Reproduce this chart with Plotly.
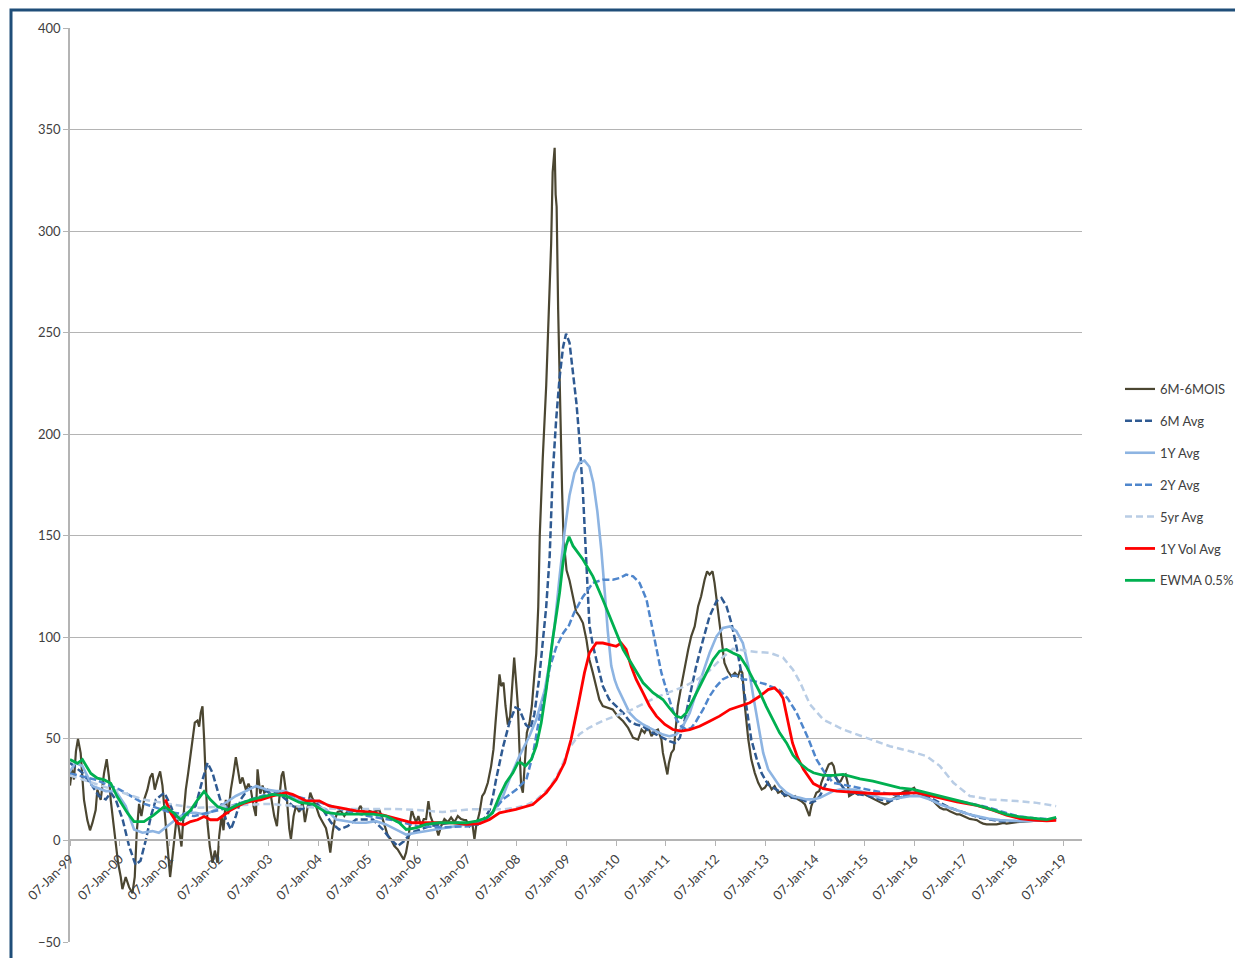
import pandas as pd
import plotly.graph_objects as go

START = pd.Timestamp("1999-01-07")

# ---- data: t = years after 07-Jan-1999, v = value ----
ois_t = [0.00, 0.04, 0.08, 0.12, 0.161, 0.215, 0.249, 0.282, 0.349, 0.403, 0.450, 0.517, 0.551, 0.618, 0.685, 0.739, 0.786, 0.820, 0.874, 0.921, 0.968, 1.022, 1.055, 1.122, 1.190, 1.257, 1.304, 1.344, 1.391, 1.438, 1.492, 1.559, 1.613, 1.660, 1.707, 1.761, 1.815, 1.862, 1.895, 1.935, 1.976, 2.016, 2.063, 2.110, 2.151, 2.198, 2.245, 2.285, 2.332, 2.379, 2.419, 2.466, 2.513, 2.567, 2.601, 2.634, 2.668, 2.702, 2.735, 2.769, 2.816, 2.870, 2.917, 2.970, 3.004, 3.051, 3.091, 3.138, 3.185, 3.239, 3.293, 3.340, 3.374, 3.427, 3.474, 3.542, 3.595, 3.642, 3.696, 3.743, 3.777, 3.831, 3.878,
         3.911, 3.978, 4.046, 4.113, 4.167, 4.214, 4.261, 4.294, 4.328, 4.368, 4.415, 4.449, 4.503, 4.550, 4.617, 4.684, 4.731, 4.785, 4.839, 4.886, 4.953, 5.020, 5.087, 5.155, 5.202, 5.242, 5.289, 5.336, 5.390, 5.457, 5.524, 5.591, 5.659, 5.726, 5.793, 5.847, 5.894, 5.961, 6.028, 6.095, 6.163, 6.230, 6.297, 6.344, 6.398, 6.465, 6.532, 6.599, 6.667, 6.720, 6.767, 6.815, 6.855, 6.882, 6.922, 6.969, 7.016, 7.070, 7.124, 7.171, 7.218, 7.258, 7.305, 7.372, 7.419, 7.473, 7.540, 7.608, 7.675, 7.742, 7.809, 7.876,
         7.943, 7.977, 8.044, 8.100, 8.145, 8.179, 8.246, 8.300, 8.347, 8.414, 8.481, 8.528, 8.569, 8.616, 8.649, 8.683, 8.730, 8.770, 8.817, 8.864, 8.905, 8.945, 8.985, 9.019, 9.052, 9.086, 9.120, 9.160, 9.200, 9.254, 9.301, 9.355, 9.390, 9.43,
         9.46, 9.52, 9.59, 9.64, 9.69, 9.72, 9.76, 9.78, 9.80, 9.83, 9.87, 9.91, 9.94, 10.00, 10.06, 10.13, 10.19, 10.26, 10.33, 10.40, 10.46, 10.53, 10.60, 10.66, 10.73, 10.83, 10.93, 11.03, 11.14, 11.24, 11.34, 11.44, 11.51, 11.57, 11.64, 11.71, 11.78, 11.84, 11.91, 11.94, 12.00, 12.03, 12.06, 12.11, 12.16, 12.20, 12.24, 12.31, 12.38, 12.45, 12.51, 12.58, 12.65, 12.71, 12.78, 12.83, 12.88, 12.94, 12.98, 13.05, 13.12, 13.18, 13.25, 13.32, 13.39, 13.45, 13.50, 13.54, 13.59, 13.66, 13.72, 13.79, 13.86, 13.93, 13.99,
         14.06, 14.13, 14.19, 14.26, 14.33, 14.39, 14.46, 14.53, 14.60, 14.66, 14.73, 14.80, 14.85, 14.89, 14.93, 14.98, 15.03, 15.09, 15.13, 15.18, 15.23, 15.28, 15.34, 15.38, 15.42, 15.47, 15.52, 15.57, 15.62, 15.66, 15.69, 15.74, 15.80, 15.87, 15.94, 16.01, 16.07, 16.14, 16.21, 16.28, 16.34, 16.41, 16.48, 16.55, 16.61, 16.68, 16.75, 16.81, 16.88, 16.95, 17.00, 17.05, 17.12, 17.18, 17.25, 17.32, 17.39, 17.45, 17.52, 17.59, 17.65, 17.72, 17.79, 17.86, 17.92, 17.99, 18.06, 18.12, 18.19, 18.26, 18.33, 18.39, 18.46, 18.53, 18.60, 18.66, 18.73, 18.80, 18.86, 18.93, 19.00, 19.07, 19.13, 19.20, 19.27, 19.33, 19.40, 19.47, 19.54, 19.60, 19.67, 19.74, 19.80, 19.86]
ois_v = [27, 35, 30, 44, 50, 43, 31, 20, 10, 5, 8.5, 15, 25, 20, 33, 40, 31, 20, 8.5, -3, -11, -18, -24, -18, -23, -26, -18, 4, 18, 12, 20, 25, 31, 33, 25, 30, 34, 27, 17, 4, -6, -18, -8, 4, 12, 5, -3, 12, 25, 33, 41, 51, 58, 59, 56, 63, 66, 49.5, 25, 8.5, -3, -11, -5, -11, 2, 12, 5, 20, 13, 25, 33, 41, 36, 28, 31, 25, 28, 25, 17, 12, 35, 23, 27,
         23.5, 25, 22, 12, 7, 20.5, 32, 34, 28.5, 20.5, 6, 0.5, 12, 17, 14, 19, 9, 17, 23.5, 20.5, 17, 12, 9, 6, 0.5, -6, 4, 10.5, 14, 14.5, 12, 14.5, 14, 15, 14.5, 17, 15, 13, 14.5, 14, 14.5, 15, 10.5, 6.5, 2.5, 0.5, -2.8, -4.4, -7, -9.4, -6, 0.5, 10.5, 15, 12, 9, 12, 7, 10.5, 10.5, 19.4, 12, 9, 6.5, 2.5, 7, 10.5, 9, 11.3, 9, 12, 10.5,
         10, 10, 7, 9, 0.5, 7, 13.6, 21.8, 23.5, 28.4, 36.6, 44.8, 57.9, 72.7, 81.8, 76, 77.7, 66.2, 57, 61.2, 77.7, 90, 77.7, 66.2, 44.8, 26.7, 23.5, 41.5, 53, 57.9, 66.2, 82.5, 92, 115,
         150, 188, 224, 259, 294, 329, 341, 318, 312, 262, 207, 172, 148, 133, 128, 120, 112.8, 110.4, 107, 98.9, 89, 82.5, 76, 69.4, 66.2, 65.3, 64.5, 61.2, 58.7, 55.4, 50.5, 49.7, 54.6, 53, 56.2, 51.3, 53.8, 54.6, 49.7, 43.1, 35, 32.5, 38, 43.1, 44.8, 54.6, 66.2, 76, 85.8, 94, 100.5, 105.4, 115.3, 120.2, 128.4, 132.5, 130.9, 132.5, 126.8, 112, 98.9, 87.4, 83.3, 80.8, 82.5, 80.8, 84.1, 82.5, 66.2, 49.7, 39.9, 33.3, 28.4, 25.1, 25.9,
         28.4, 25.1, 26.7, 23.5, 24.3, 21.8, 22.6, 21, 21.8, 20.2, 19.3, 17.7, 14.4, 12, 16.9, 20.2, 23.5, 24.3, 28.4, 31.6, 34.9, 37.4, 38.2, 36.6, 31.6, 28.4, 29.2, 31.6, 32.5, 28.4, 21.8, 22.6, 23.5, 22.6, 23.5, 22.6, 21.8, 21, 20.2, 19.3, 18.5, 17.7, 18.5, 20.2, 21, 22.6, 23.5, 24.3, 24.3, 25.1, 25.9, 23.5, 22.6, 21.8, 21, 20.2, 19.3, 17.7, 16.1, 15.3, 15.3, 14.4, 13.6, 12.8, 12.8, 12, 11.6, 10.6, 10.3, 10, 9, 8.3, 7.9, 7.9, 7.9, 7.9, 8.3, 8.6, 8.3, 8.6, 9, 9, 9.1, 9.2, 9.4, 9.4, 9.6, 9.8, 10, 10, 10.1, 10.3, 10.3, 11.1]

avg6m_t = [0.00, 0.25, 0.45, 0.58, 0.72, 0.82, 0.92, 1.06, 1.19, 1.32, 1.42, 1.53, 1.63, 1.73, 1.90, 2.03, 2.13, 2.26, 2.40, 2.53, 2.67, 2.77, 2.87, 3.00, 3.14, 3.24, 3.34, 3.44, 3.58, 3.71, 3.84, 4.01, 4.18, 4.35, 4.48, 4.65, 4.82, 4.95, 5.09, 5.26, 5.42, 5.59, 5.76, 5.93, 6.10, 6.30, 6.46, 6.60, 6.73, 6.87, 7.04, 7.24, 7.44, 7.64, 7.84, 8.04, 8.24, 8.38, 8.45, 8.52, 8.58, 8.72, 8.85, 8.97, 9.05, 9.18, 9.27, 9.35, 9.45, 9.52, 9.59, 9.66, 9.72, 9.79, 9.86, 9.93, 9.99, 10.06, 10.13, 10.20, 10.26, 10.33, 10.40, 10.46, 10.53, 10.63, 10.73, 10.86, 11.00, 11.14, 11.27, 11.40, 11.54, 11.67, 11.81, 11.94, 12.07, 12.18, 12.28, 12.38, 12.48, 12.61, 12.75, 12.88, 13.02, 13.12, 13.22, 13.32, 13.42, 13.52, 13.62, 13.72, 13.83, 13.93, 14.06, 14.23, 14.39, 14.56, 14.73, 14.90, 15.00, 15.10, 15.20, 15.30, 15.40, 15.50, 15.60, 15.70, 15.91, 16.11, 16.31, 16.51, 16.71, 16.91, 17.12, 17.32, 17.52, 17.72, 17.92, 18.12, 18.33, 18.53, 18.73, 18.93, 19.13, 19.33, 19.54, 19.74, 19.86]
avg6m_v = [38.2, 33.3, 26.8, 21.9, 20.2, 23.5, 20.2, 10.3, -2.8, -12, -10, 0.5, 12, 20.2, 23.5, 17, 10.3, 10.3, 13.6, 17, 30, 38.2, 33.3, 21.9, 10.3, 5.4, 12, 20.2, 25.1, 26.8, 25.9, 23.5, 23.5, 20.2, 17, 15.3, 17, 18.7, 15.3, 8.7, 5.4, 7, 10.3, 10.3, 10.3, 5.4, 0.5, -2.8, -0.3, 3.8, 5.4, 7, 7.9, 8.7, 8.7, 7.9, 7.9, 12, 15, 22, 30, 46, 58, 65.5, 64.5, 57, 55, 62, 80, 97, 115, 140, 180, 207, 228, 243, 249.5, 245, 231, 215, 197, 171, 136, 106, 96, 86, 76, 69.4, 66.2, 62.8, 58.7, 57.1, 56.2, 53.8, 52.1, 50.5, 48.9, 48, 50.5, 59.5, 71, 85.8, 98.9, 110.4, 117.8, 119.4, 115.3, 107, 95.6, 82.5, 66.2, 49.7, 40, 33, 27.5, 25.1, 22.6, 21, 20.2, 18.5, 19.3, 21.8, 26.7, 31.6, 31.6, 28.4, 25.1, 23.5, 22.6, 21.8, 20.2, 19.3, 21, 23.5, 23.5, 21, 18.5, 16.1, 14.4, 12.8, 11.1, 10.3, 9.5, 9.5, 9.5, 9.8, 10, 10.3, 10.7]

avg1y_t = [0.00, 0.11, 0.25, 0.45, 0.72, 0.92, 1.12, 1.29, 1.46, 1.66, 1.79, 1.96, 2.13, 2.33, 2.53, 2.73, 2.94, 3.14, 3.34, 3.54, 3.75, 3.95, 4.15, 4.35, 4.55, 4.75, 4.95, 5.16, 5.36, 5.56, 5.76, 5.96, 6.16, 6.36, 6.57, 6.77, 6.97, 7.17, 7.37, 7.57, 7.77, 7.98, 8.18, 8.38, 8.55, 8.72, 8.88, 9.05, 9.25, 9.39, 9.47, 9.56, 9.66, 9.76, 9.86, 9.96, 10.06, 10.16, 10.26, 10.36, 10.46, 10.54, 10.62, 10.70, 10.77, 10.83, 10.90, 10.97, 11.03, 11.14, 11.27, 11.40, 11.54, 11.67, 11.81, 11.94, 12.07, 12.21, 12.34, 12.48, 12.61, 12.75, 12.88, 13.02, 13.15, 13.29, 13.42, 13.55, 13.66, 13.76, 13.86, 13.96, 14.06, 14.16, 14.29, 14.43, 14.56, 14.70, 14.83, 14.97, 15.10, 15.23, 15.37, 15.50, 15.64, 15.77, 15.91, 16.11, 16.31, 16.51, 16.71, 16.91, 17.12, 17.32, 17.52, 17.72, 17.92, 18.12, 18.33, 18.53, 18.73, 18.93, 19.13, 19.33, 19.54, 19.74, 19.86]
avg1y_v = [34, 38.2, 36.6, 26.8, 24.3, 24.3, 17, 5.4, 3.8, 4.6, 3.8, 7, 10.3, 13.6, 13.6, 12.8, 15.3, 18.7, 21.9, 24.3, 26.8, 25.1, 24.3, 24.3, 20.2, 18.7, 17, 15.3, 10.3, 9.5, 8.7, 8.7, 9.5, 7.9, 5.4, 2.9, 3.8, 4.6, 5.4, 6.2, 7, 7.9, 8.7, 10.3, 15, 21.8, 32, 41.5, 51.3, 59.5, 66, 74, 88, 106, 130, 152, 170, 181, 186, 187, 184, 176, 162, 143, 122, 103, 86, 79, 75, 69.4, 62.8, 59.5, 57.1, 55.4, 53.8, 52.1, 51.3, 52.1, 56.2, 62.8, 72.7, 82.5, 92.3, 100.5, 104.6, 105.4, 103, 97.2, 85.8, 71, 56.2, 43.1, 35, 31.6, 26.7, 23.5, 21.8, 21, 20.2, 20.2, 21, 22.6, 24.3, 25.1, 25.1, 25.1, 24.3, 22.6, 21, 20.2, 21, 21.8, 21.8, 20.2, 17.7, 16.1, 14.4, 12.8, 11.6, 10.6, 10, 9.7, 9.5, 9.6, 9.8, 10.2, 10.3]

avg2y_t = [0.0, 0.5, 1.0, 1.5, 2.0, 2.5, 3.0, 3.5, 4.0, 4.5, 5.0, 5.5, 6.0, 6.5, 7.0, 7.5, 8.04, 8.38, 8.72, 8.99, 9.19, 9.32, 9.45, 9.59, 9.66, 9.79, 9.93, 10.05, 10.15, 10.33, 10.53, 10.73, 10.93, 11.07, 11.20, 11.34, 11.47, 11.61, 11.71, 11.81, 11.91, 12.01, 12.11, 12.21, 12.31, 12.41, 12.51, 12.61, 12.75, 12.88, 13.02, 13.15, 13.29, 13.42, 13.55, 13.69, 13.82, 14.00, 14.29, 14.45, 14.63, 14.87, 15.03, 15.20, 15.37, 15.71, 16.04, 16.38, 16.71, 17.05, 17.39, 17.72, 18.05, 18.39, 18.73, 19.07, 19.40, 19.74, 19.86]
avg2y_v = [33, 30, 25, 18, 14, 12, 15, 19, 23, 22, 19, 15, 12, 10, 7, 6.5, 7, 10.3, 20.2, 25.1, 30, 42, 60, 75, 85, 95, 102, 106, 112, 120, 126.8, 128.4, 128.4, 129.2, 130.9, 130, 126.8, 118.6, 107, 94, 82.5, 74.3, 66.2, 59.5, 56.2, 54.6, 55.4, 58.7, 64.5, 71, 76, 79.4, 81.1, 81.1, 79.4, 79, 78, 77, 74, 70, 63, 50, 40, 33.3, 28.4, 26.8, 25, 23.5, 21.9, 23.5, 21.9, 20.2, 18.5, 16.9, 14.5, 12, 11, 10.3, 10.3]

avg5y_t = [0.0, 0.5, 1.0, 1.5, 2.0, 2.5, 3.0, 3.5, 4.0, 4.5, 5.0, 5.5, 6.0, 6.5, 7.0, 7.5, 8.04, 8.72, 8.98, 9.20, 9.39, 9.66, 9.86, 10.06, 10.26, 10.46, 10.73, 11.00, 11.27, 11.54, 11.81, 12.07, 12.34, 12.61, 12.88, 13.15, 13.35, 13.55, 13.82, 14.09, 14.36, 14.56, 14.70, 14.90, 15.17, 15.57, 16.04, 16.51, 16.92, 17.25, 17.52, 17.79, 18.12, 18.53, 19.07, 19.47, 19.86]
avg5y_v = [32, 28, 24, 20, 18, 16, 16.5, 17.5, 18, 17, 16, 15.5, 15.5, 15.5, 15, 14, 15.3, 15.3, 16.1, 17.5, 20, 26, 34.2, 45.7, 52.3, 55.6, 58.9, 61.4, 63.9, 67.2, 70.5, 73, 75.5, 78.8, 83.7, 90.3, 94.4, 93.6, 92.8, 92.4, 90, 84, 78, 67, 59.5, 54.6, 50.5, 46.4, 43.9, 41.5, 36.6, 28.4, 21.9, 20.2, 19.4, 18.5, 16.9]

vol1y_t = [1.92, 2.03, 2.16, 2.30, 2.43, 2.57, 2.70, 2.83, 2.97, 3.10, 3.24, 3.37, 3.51, 3.64, 3.84, 4.08, 4.35, 4.48, 4.75, 5.02, 5.22, 5.42, 5.76, 6.10, 6.37, 6.63, 6.90, 7.17, 7.44, 7.71, 7.98, 8.25, 8.45, 8.65, 8.98, 9.32, 9.59, 9.79, 9.96, 10.09, 10.23, 10.36, 10.46, 10.60, 10.73, 10.86, 11.00, 11.10, 11.20, 11.30, 11.40, 11.54, 11.67, 11.81, 11.98, 12.14, 12.31, 12.48, 12.68, 12.88, 13.08, 13.29, 13.49, 13.69, 13.89, 14.06, 14.19, 14.29, 14.36, 14.45, 14.55, 14.65, 14.77, 14.97, 15.17, 15.44, 15.84, 16.24, 16.65, 17.05, 17.45, 17.86, 18.26, 18.60, 18.86, 19.13, 19.40, 19.67, 19.86]
vol1y_v = [20.2, 13.4, 8.5, 7.7, 9.3, 10.2, 11.8, 10.2, 10.2, 12.6, 15, 16.7, 18.4, 19.2, 20, 21.9, 23.5, 22.7, 19.5, 19.5, 17, 16.2, 14.6, 13.8, 12, 10.3, 8.7, 8.7, 8.7, 8.7, 7.9, 8.3, 10.3, 13.6, 15.3, 17.7, 23.5, 30, 38.2, 49.7, 66.2, 82.5, 92.3, 97.2, 97.2, 96.4, 95.6, 97.2, 94, 85.8, 79.4, 72.7, 66.2, 61.2, 57.1, 54.6, 53.8, 54.6, 56.2, 58.7, 61.2, 64.5, 66.2, 67.8, 71, 74.3, 75.1, 72.7, 70, 60, 48, 41, 35, 28, 25.5, 24.3, 23.5, 23, 23, 23.5, 21.3, 19, 17.3, 14.8, 12.5, 10.8, 10, 9.7, 9.9]

ewma_t = [0.00, 0.15, 0.25, 0.42, 0.55, 0.69, 0.82, 0.95, 1.16, 1.29, 1.49, 1.69, 1.90, 2.10, 2.23, 2.43, 2.57, 2.70, 2.83, 2.97, 3.17, 3.37, 3.64, 3.91, 4.08, 4.35, 4.62, 4.89, 5.16, 5.42, 5.76, 6.10, 6.37, 6.63, 6.77, 6.97, 7.17, 7.44, 7.71, 7.98, 8.18, 8.38, 8.51, 8.65, 8.78, 8.92, 9.02, 9.09, 9.17, 9.29, 9.39, 9.49, 9.59, 9.67, 9.72, 9.80, 9.86, 9.93, 9.99, 10.05, 10.13, 10.33, 10.53, 10.73, 10.93, 11.14, 11.34, 11.54, 11.74, 11.94, 12.07, 12.21, 12.31, 12.41, 12.55, 12.68, 12.82, 12.95, 13.08, 13.22, 13.35, 13.49, 13.62, 13.76, 13.89, 14.02, 14.16, 14.29, 14.43, 14.56, 14.70, 14.85, 14.97, 15.17, 15.37, 15.57, 15.70, 15.91, 16.17, 16.44, 16.71, 16.98, 17.25, 17.52, 17.79, 18.06, 18.33, 18.60, 18.86, 19.13, 19.40, 19.67, 19.86]
ewma_v = [39.8, 38, 39.8, 33, 30.7, 29.8, 28.2, 21.6, 13.4, 9.3, 9.3, 12.6, 16.7, 13.4, 10.2, 15, 20, 24.1, 20, 16.7, 15, 17.5, 20, 21.6, 22.7, 21.9, 18.7, 17.9, 13.8, 13, 13, 13, 12, 8.7, 5.4, 6.2, 7.9, 8.7, 8.7, 8.7, 9.5, 11, 13.6, 21.8, 28.4, 33.3, 38.2, 38.2, 36.6, 39.9, 46.4, 57.9, 74.3, 90.7, 99, 112, 122, 137, 145, 149.5, 145, 138.3, 130, 118.6, 107, 94, 85.8, 77.6, 72.7, 69.4, 65.3, 61.2, 60.4, 62.8, 69.4, 76, 82.5, 89, 93.2, 94, 92.3, 90.7, 85.8, 79.4, 73, 66, 59, 53, 48, 42, 38, 35, 33.3, 32, 32, 32.5, 31.7, 30.3, 29.2, 27.6, 25.9, 25.1, 23.5, 21.8, 20.2, 18.5, 16.9, 14.9, 12.8, 11.6, 10.8, 10.3, 11.3]

series_names = ["6M-6MOIS", "6M Avg", "1Y Avg", "2Y Avg", "5yr Avg", "1Y Vol Avg", "EWMA 0.5%"]
y_ticks = [-50, 0, 50, 100, 150, 200, 250, 300, 350, 400]


def to_dates(ts):
    return [START + pd.Timedelta(days=t * 365.25) for t in ts]


styles = [
    (ois_t, ois_v, dict(color="#4B4631", width=2.2)),
    (avg6m_t, avg6m_v, dict(color="#2F5A92", width=2.5, dash="7px,3px")),
    (avg1y_t, avg1y_v, dict(color="#8DB4E2", width=2.6)),
    (avg2y_t, avg2y_v, dict(color="#4F86CC", width=2.5, dash="7px,3px")),
    (avg5y_t, avg5y_v, dict(color="#B9CDE5", width=2.5, dash="7px,4px")),
    (vol1y_t, vol1y_v, dict(color="#FF0000", width=2.8)),
    (ewma_t, ewma_v, dict(color="#00B050", width=2.8)),
]

fig = go.Figure()
for name, (ts, vs, line) in zip(series_names, styles):
    fig.add_trace(go.Scatter(x=to_dates(ts), y=vs, mode="lines", name=name,
                             line=line, legendgroup=name))

# the page places the figure 8px in from the window corner
OFF = 8
W, H = 1243 - OFF, 958 - OFF
# target plot area in window pixels: x 70..1082, y 28..942
ml, mt = 70 - OFF, 28 - OFF
mr = W - (1082 - OFF)
mb = H - (942 - OFF)
pw, ph = W - ml - mr, H - mt - mb


def px_x(p):
    return (p - OFF - ml) / pw


def px_y(q):
    return (H - mb - (q - OFF)) / ph


font_main = "Lato, Calibri, Carlito, sans-serif"
grid_col = "#B4B4B4"

fig.update_layout(
    width=W, height=H,
    margin=dict(l=ml, r=mr, t=mt, b=mb, autoexpand=False),
    plot_bgcolor="white", paper_bgcolor="white",
    font=dict(family=font_main, size=13, color="#404040"),
    showlegend=True,
    legend=dict(x=px_x(1120), y=px_y(374), xanchor="left", yanchor="top",
                font=dict(family=font_main, size=13, color="#404040"),
                tracegroupgap=12, bgcolor="rgba(0,0,0,0)"),
    xaxis=dict(
        type="date", automargin=False,
        range=[START, START + pd.Timedelta(days=20.38 * 365.25)],
        tick0="1999-01-07", dtick="M12", tickformat="%d-%b-%y",
        tickangle=-45, ticks="outside", ticklen=5, tickcolor=grid_col,
        showgrid=False, showline=True, linecolor=grid_col, linewidth=1.5,
        anchor="free", position=50 / 450, zeroline=False,
        tickfont=dict(family=font_main, size=13, color="#404040"),
    ),
    yaxis=dict(
        automargin=False,
        range=[-50, 400], tickvals=y_ticks, ticks="outside", ticklen=5,
        tickcolor=grid_col, showgrid=True, gridcolor=grid_col, gridwidth=1,
        showline=True, linecolor=grid_col, linewidth=1.5, zeroline=False,
        tickfont=dict(family=font_main, size=13, color="#404040"),
    ),
    shapes=[dict(type="rect", xref="paper", yref="paper",
                 x0=px_x(11), x1=px_x(1262), y0=px_y(975), y1=px_y(10),
                 line=dict(color="#1F4E79", width=3), fillcolor="rgba(0,0,0,0)",
                 layer="above")],
)

fig.write_html("out.html")
